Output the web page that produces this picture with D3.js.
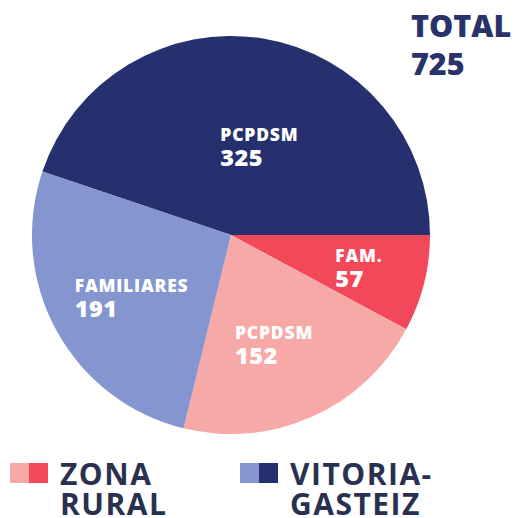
<!DOCTYPE html>
<html>
<head>
<meta charset="utf-8">
<script src="https://cdn.jsdelivr.net/npm/d3@7"></script>
<style>
  body { margin: 0; background: #fff; }
  svg { display: block; font-family: "Open Sans", sans-serif; }
</style>
</head>
<body>
<div id="chart"></div>
<script>
const labels = ["PCPDSM", "FAM.", "PCPDSM", "FAMILIARES"];
const values = [325, 57, 152, 191];
const zones = ["VITORIA-GASTEIZ", "ZONA RURAL", "ZONA RURAL", "VITORIA-GASTEIZ"];
const colors = ["#27306f", "#f2485a", "#f7a9a8", "#8595cf"];

const legendNames = [["ZONA", "RURAL"], ["VITORIA-", "GASTEIZ"]];
const legendColors = [["#f7a9a8", "#f2485a"], ["#8595cf", "#27306f"]];

const total = d3.sum(values);

const width = 518;
const height = 518;
const cx = 231;
const cy = 235;
const radius = 199;

// small hand nudges for the labels, like in the original design
const labelNudge = [
  [10, 15],
  [18, -3],
  [-3, -2],
  [0, 0],
];

const svg = d3
  .select("#chart")
  .append("svg")
  .attr("width", width)
  .attr("height", height);

// first slice ends at 3 o'clock
const start = Math.PI / 2 - (values[0] / total) * 2 * Math.PI;

const pie = d3
  .pie()
  .sort(null)
  .value((d) => d)
  .startAngle(start)
  .endAngle(start + 2 * Math.PI);

const arcs = pie(values);

const arc = d3.arc().innerRadius(0).outerRadius(radius);
const labelArc = d3
  .arc()
  .innerRadius(radius * 0.57)
  .outerRadius(radius * 0.57);

const g = svg.append("g").attr("transform", `translate(${cx}, ${cy})`);

g.selectAll("path")
  .data(arcs)
  .enter()
  .append("path")
  .attr("d", arc)
  .attr("fill", (d, i) => colors[i]);

// etiquetas
const lbl = g
  .selectAll("g.lbl")
  .data(arcs)
  .enter()
  .append("g")
  .attr("class", "lbl");

lbl.each(function (d, i) {
  const sel = d3.select(this);
  const t1 = sel
    .append("text")
    .attr("fill", "#fff")
    .attr("font-weight", 800)
    .attr("font-size", 17.5)
    .attr("letter-spacing", 0.8)
    .attr("y", 0)
    .text(labels[i]);
  const t2 = sel
    .append("text")
    .attr("fill", "#fff")
    .attr("font-weight", 800)
    .attr("font-size", 23.5)
    .attr("letter-spacing", 0.5)
    .attr("y", 25)
    .text(values[i]);
  const w = Math.max(t1.node().getComputedTextLength(), t2.node().getComputedTextLength());
  const [x, y] = labelArc.centroid(d);
  const [nx, ny] = labelNudge[i];
  sel.attr("transform", `translate(${x - w / 2 + nx}, ${y + 2.5 + ny})`);
});

// total
svg
  .append("text")
  .attr("x", 411)
  .attr("y", 37)
  .attr("fill", "#29336b")
  .attr("font-weight", 800)
  .attr("font-size", 30.5)
  .text("TOTAL");

svg
  .append("text")
  .attr("x", 411)
  .attr("y", 75)
  .attr("fill", "#29336b")
  .attr("font-weight", 800)
  .attr("font-size", 30.5)
  .text(total);

// leyenda
const legendX = d3.scaleOrdinal().domain([0, 1]).range([10, 240]);

const leg = svg
  .selectAll("g.legend")
  .data(legendNames)
  .enter()
  .append("g")
  .attr("class", "legend")
  .attr("transform", (d, i) => `translate(${legendX(i)}, 463)`);

leg.each(function (names, i) {
  const sel = d3.select(this);
  legendColors[i].forEach((c, j) => {
    sel
      .append("rect")
      .attr("x", j * 19)
      .attr("y", 0)
      .attr("width", 19)
      .attr("height", 20)
      .attr("fill", c);
  });
  names.forEach((n, j) => {
    sel
      .append("text")
      .attr("x", 50)
      .attr("y", 22 + j * 30)
      .attr("fill", "#2a3150")
      .attr("font-weight", 700)
      .attr("font-size", 30)
      .attr("letter-spacing", 1.5)
      .text(n);
  });
});
</script>
</body>
</html>
